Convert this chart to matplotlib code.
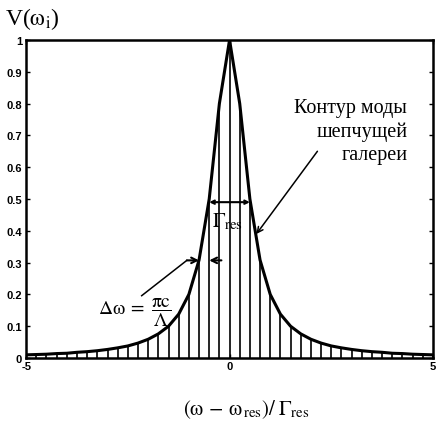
import matplotlib
matplotlib.use("Agg")
import matplotlib.pyplot as plt
import numpy as np

plt.rcParams['mathtext.fontset'] = 'stix'
plt.rcParams['font.family'] = ['Liberation Serif', 'DejaVu Serif']

# x positions of the sampled modes (normalised detuning)
x_vals = [-5.0, -4.75, -4.5, -4.25, -4.0, -3.75, -3.5, -3.25, -3.0, -2.75,
          -2.5, -2.25, -2.0, -1.75, -1.5, -1.25, -1.0, -0.75, -0.5, -0.25,
          0.0,
          0.25, 0.5, 0.75, 1.0, 1.25, 1.5, 1.75, 2.0, 2.25, 2.5,
          2.75, 3.0, 3.25, 3.5, 3.75, 4.0, 4.25, 4.5, 4.75, 5.0]
# mode amplitudes
v_vals = [0.010, 0.011, 0.012, 0.014, 0.015, 0.018, 0.020, 0.023, 0.027, 0.032,
          0.038, 0.047, 0.059, 0.076, 0.100, 0.138, 0.200, 0.308, 0.500, 0.800,
          1.000,
          0.800, 0.500, 0.308, 0.200, 0.138, 0.100, 0.076, 0.059, 0.047, 0.038,
          0.032, 0.027, 0.023, 0.020, 0.018, 0.015, 0.014, 0.012, 0.011, 0.010]

y_ticks = [0, 0.1, 0.2, 0.3, 0.4, 0.5, 0.6, 0.7, 0.8, 0.9, 1]
y_ticklabels = ['0', '0.1', '0.2', '0.3', '0.4', '0.5', '0.6', '0.7', '0.8', '0.9', '1']
x_ticks = [-5, 0, 5]
x_ticklabels = ['-5', '0', '5']

fig = plt.figure(figsize=(4.36, 4.31), dpi=100)
ax = fig.add_axes([0.060, 0.167, 0.933, 0.738])

ax.vlines(x_vals, 0, v_vals, colors='black', lw=1.2)
ax.plot(x_vals, v_vals, color='black', lw=2.2)

ax.set_xlim(-5, 5)
ax.set_ylim(0, 1)
ax.set_yticks(y_ticks)
ax.set_yticklabels(y_ticklabels, family='Liberation Sans', fontsize=8, fontweight='bold')
ax.set_xticks(x_ticks)
ax.set_xticklabels(x_ticklabels, family='Liberation Sans', fontsize=8, fontweight='bold')
ax.tick_params(direction='in', length=3, width=1, right=True, top=True, pad=2)
ax.tick_params(axis='y', pad=3)
for s in ax.spines.values():
    s.set_linewidth(1.8)

# Gamma_res bracket
ax.annotate('', xy=(-0.5, 0.49), xytext=(0.5, 0.49),
            arrowprops=dict(arrowstyle='<->', lw=1.5, mutation_scale=6, shrinkA=0, shrinkB=0))
ax.text(-0.05, 0.43, r'$\Gamma_{\rm res}$', ha='center', va='center', fontsize=15)

# Delta omega arrows
ax.annotate('', xy=(-0.75, 0.307), xytext=(-1.05, 0.307),
            arrowprops=dict(arrowstyle='->', lw=1.5, mutation_scale=10, shrinkA=0, shrinkB=0))
ax.annotate('', xy=(-0.5, 0.307), xytext=(-0.2, 0.307),
            arrowprops=dict(arrowstyle='->', lw=1.5, mutation_scale=10, shrinkA=0, shrinkB=0))
ax.plot([-2.16, -1.05], [0.196, 0.307], color='black', lw=1.1)
ax.text(-2.33, 0.145, r'$\Delta\mathrm{\omega}\;=\;\dfrac{\mathrm{\pi c}}{\Lambda}$',
        ha='center', va='center', fontsize=14)

# contour pointer
ax.annotate('', xy=(0.66, 0.39), xytext=(2.16, 0.65),
            arrowprops=dict(arrowstyle='->', lw=1.1, mutation_scale=10, shrinkA=0, shrinkB=0))
ax.text(4.37, 0.713, 'Контур моды\nшепчущей\nгалереи', ha='right', va='center',
        fontsize=14.5, linespacing=1.3)

fig.text(0.012, 0.955, r'V($\mathrm{\omega}_{\rm i}$)', ha='left', va='center', fontsize=17)
fig.text(0.564, 0.049, r'$\left(\mathrm{\omega}\,-\,\mathrm{\omega}_{\,\rm res}\right)/\;\Gamma_{\rm res}$',
         ha='center', va='center', fontsize=15)

fig.savefig('out.png', dpi=100)
